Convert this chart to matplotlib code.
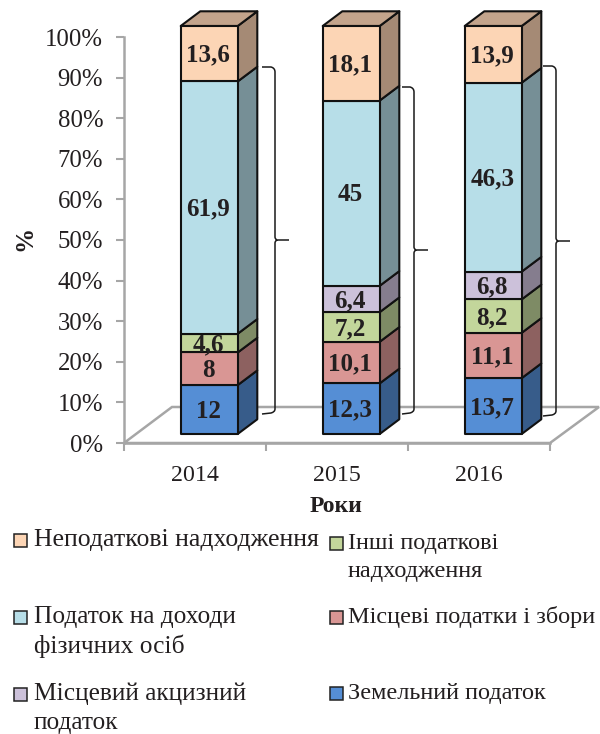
import numpy as np
import matplotlib
matplotlib.use("Agg")
import matplotlib.pyplot as plt
from matplotlib.patches import Polygon, Rectangle, PathPatch
from matplotlib.path import Path
from matplotlib.transforms import Affine2D

plt.rcParams['font.family'] = ['Liberation Serif', 'DejaVu Serif']

years = ['2014', '2015', '2016']
series_names = ['Земельний податок', 'Місцеві податки і збори', 'Інші податкові надходження',
                'Місцевий акцизний податок', 'Податок на доходи фізичних осіб', 'Неподаткові надходження']
land_tax = [12, 12.3, 13.7]
local_taxes = [8, 10.1, 11.1]
other_tax = [4.6, 7.2, 8.2]
local_excise = [0, 6.4, 6.8]
income_tax = [61.9, 45, 46.3]
non_tax = [13.6, 18.1, 13.9]
series = [land_tax, local_taxes, other_tax, local_excise, income_tax, non_tax]
front_colors = ['#558ED5', '#D99694', '#C3D69B', '#CCC1DA', '#B7DEE8', '#FCD5B5']
side_colors = ['#375C8A', '#8D6160', '#7E8B65', '#857D8E', '#768F96', '#A58A75']
top_color = '#C3A48C'
GRAY = '#A6A6A6'

W, H = 600, 734
fig = plt.figure(figsize=(W / 100, H / 100), dpi=100, facecolor='white')
L, R, T, B = 124, 550, 37, 443
ax = fig.add_axes([L / W, 1 - B / H, (R - L) / W, (B - T) / H])
ax.set_xlim(-0.5, 2.5)
ax.set_ylim(0, 100)
ax.patch.set_visible(False)
for s in ('top', 'right'):
    ax.spines[s].set_visible(False)
for s in ('left', 'bottom'):
    ax.spines[s].set_color(GRAY)
    ax.spines[s].set_linewidth(1.8)

ax.set_yticks(np.arange(0, 101, 10))
ax.set_yticklabels([f'{v}%' for v in range(0, 101, 10)], fontsize=17.8, color='#231F20')
ax.set_xticks([0, 1, 2])
ax.set_xticklabels(years, fontsize=17.2, color='#231F20')
ax.set_xticks([-0.5, 0.5, 1.5, 2.5], minor=True)
ax.tick_params(axis='y', color=GRAY, width=1.5, length=6, pad=9)
ax.tick_params(axis='x', which='major', length=0, pad=16)
ax.tick_params(axis='x', which='minor', color=GRAY, width=1.5, length=6)

# pixel transform (y down) for the oblique projection
px = Affine2D().scale(1, -1).translate(0, H)

# floor
ax.add_patch(Polygon([(L, B), (172, 407), (599, 407), (550, B)], closed=True, fill=False,
                     ec=GRAY, lw=1.8, transform=px, zorder=1, clip_on=False, joinstyle='miter'))

BAR_BOTTOM, BAR_TOP = 434, 26
BAR_W, DX, DY = 57, 19.6, 14.7
BAR_SHIFT = 14.2
EDGE = dict(ec='#111111', lw=1.5, transform=px, clip_on=False, joinstyle='round')

labels_fmt = lambda v: f'{v:g}'.replace('.', ',')
for i, year in enumerate(years):
    vals = [s[i] for s in series]
    total = sum(vals)
    xc = L + (i + 0.5) * (R - L) / 3 + BAR_SHIFT
    x0, x1 = xc - BAR_W / 2, xc + BAR_W / 2
    cum = 0
    for j, v in enumerate(vals):
        if v == 0:
            continue
        yb = BAR_BOTTOM - (BAR_BOTTOM - BAR_TOP) * cum / total
        yt = BAR_BOTTOM - (BAR_BOTTOM - BAR_TOP) * (cum + v) / total
        ax.add_patch(Polygon([(x1, yb), (x1 + DX, yb - DY), (x1 + DX, yt - DY), (x1, yt)],
                             fc=side_colors[j], zorder=3, **EDGE))
        ax.add_patch(Polygon([(x0, yb), (x1, yb), (x1, yt), (x0, yt)],
                             fc=front_colors[j], zorder=4, **EDGE))
        ax.text(xc - 1, (yb + yt) / 2 + 1.5, labels_fmt(v), transform=px, ha='center', va='center',
                fontsize=18, fontweight='bold', color='#231F20', zorder=5)
        cum += v
    ax.add_patch(Polygon([(x0, BAR_TOP), (x1, BAR_TOP), (x1 + DX, BAR_TOP - DY), (x0 + DX, BAR_TOP - DY)],
                         fc=top_color, zorder=3, **EDGE))


def brace(x0, xv, xt, y0, ym, y1):
    verts = [(x0, y0), (xv - 4, y0), (xv, y0 + 1), (xv, y0 + 5),
             (xv, ym - 3), (xv, ym - 1), (xv + 2, ym), (xt, ym),
             (xv + 2, ym), (xv, ym + 1), (xv, ym + 3),
             (xv, y1 - 4), (xv, y1 - 1), (xv - 4, y1), (x0, y1 + 1)]
    codes = [Path.MOVETO, Path.LINETO, Path.CURVE3, Path.CURVE3,
             Path.LINETO, Path.CURVE3, Path.CURVE3, Path.LINETO,
             Path.MOVETO, Path.CURVE3, Path.CURVE3,
             Path.LINETO, Path.CURVE3, Path.CURVE3, Path.LINETO]
    ax.add_patch(PathPatch(Path(verts, codes), fill=False, ec='#1A1A1A', lw=1.1,
                           transform=px, clip_on=False, zorder=2))


brace(262, 275, 289, 67, 240, 413)
brace(402, 414, 428, 87, 250, 413)
brace(543, 556, 570, 66, 241, 415)

fig.text(25 / W, 1 - 238 / H, '%', rotation=90, ha='center', va='center',
         fontsize=18, fontweight='bold', color='#231F20')
fig.text(336 / W, 1 - 507 / H, 'Роки', ha='center', va='center',
         fontsize=17, fontweight='bold', color='#231F20')

# legend
legend_rows = [
    (14, 34, 540, 18.5, 'Неподаткові надходження', '#FCD5B5', None),
    (330, 348, 543, 17.5, 'Інші податкові', '#C3D69B', 'надходження'),
    (14, 34, 617, 18.3, 'Податок на доходи', '#B7DEE8', 'фізичних осіб'),
    (330, 348, 617, 17.5, 'Місцеві податки і збори', '#D99694', None),
    (14, 34, 694, 18.3, 'Місцевий акцизний', '#CCC1DA', 'податок'),
    (330, 348, 693, 17.5, 'Земельний податок', '#558ED5', None),
]
for sx, tx, y, fs, line1, color, line2 in legend_rows:
    fig.add_artist(Rectangle((sx, y - 6.5), 13, 13, fc=color, ec='#222222', lw=1.1, transform=px))
    fig.text(tx / W, 1 - y / H, line1, ha='left', va='center', fontsize=fs, color='#231F20')
    if line2:
        fig.text(tx / W, 1 - (y + 29) / H, line2, ha='left', va='center', fontsize=fs, color='#231F20')

fig.savefig('out.png', dpi=100)
